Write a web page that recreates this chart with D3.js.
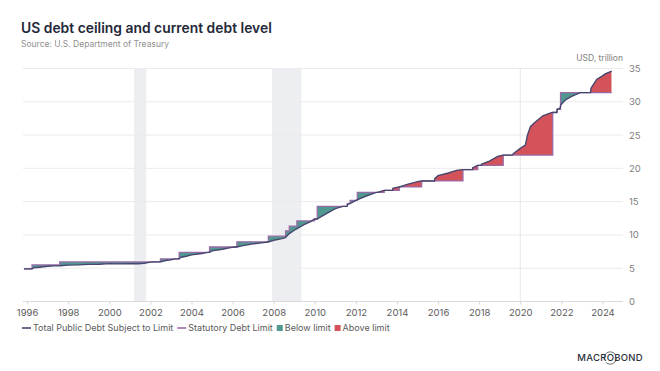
<!DOCTYPE html>
<html>
<head>
<meta charset="utf-8">
<script src="https://cdn.jsdelivr.net/npm/d3@7"></script>
<style>
  body { margin: 0; background: #fff; }
  svg { display: block; font-family: Inter, "Open Sans", sans-serif; }
</style>
</head>
<body>
<svg id="chart" width="660" height="371"></svg>
<script>
// total public debt subject to limit, USD trillion (decimal year)
const debtYears = [1995.85, 1996.24, 1996.30, 1996.6, 1997.0, 1997.3, 1997.6, 1998.0, 1998.5, 1999.0,
  1999.5, 2000.0, 2000.5, 2001.0, 2001.4, 2001.7, 2002.0, 2002.3, 2002.48, 2002.75,
  2003.0, 2003.2, 2003.39, 2003.5, 2003.75, 2004.0, 2004.5, 2004.8, 2004.87, 2005.0,
  2005.5, 2005.9, 2006.1, 2006.2, 2006.5, 2007.0, 2007.5, 2007.73, 2008.0, 2008.4,
  2008.57, 2008.76, 2009.0, 2009.13, 2009.5, 2009.8, 2009.98, 2010.11, 2010.5, 2011.0,
  2011.37, 2011.57, 2011.6, 2011.8, 2012.0, 2012.5, 2012.99, 2013.09, 2013.1, 2013.37,
  2013.79, 2013.8, 2014.0, 2014.1, 2014.12, 2014.5, 2015.0, 2015.19, 2015.83, 2015.84,
  2016.0, 2016.5, 2016.9, 2017.2, 2017.68, 2017.69, 2017.92, 2018.1, 2018.11, 2018.5,
  2018.9, 2019.16, 2019.6, 2019.66, 2020.0, 2020.25, 2020.35, 2020.5, 2020.75, 2021.1,
  2021.45, 2021.57, 2021.78, 2021.8, 2021.93, 2021.97, 2022.2, 2022.5, 2022.92, 2023.05,
  2023.42, 2023.44, 2023.5, 2023.73, 2024.0, 2024.14, 2024.3, 2024.45];
const debtValues = [4.90, 4.90, 5.05, 5.15, 5.29, 5.35, 5.38, 5.47, 5.50, 5.58,
  5.60, 5.69, 5.65, 5.68, 5.68, 5.75, 5.92, 5.95, 5.95, 6.16,
  6.25, 6.40, 6.40, 6.65, 6.80, 7.00, 7.20, 7.38, 7.38, 7.60,
  7.85, 8.10, 8.18, 8.18, 8.40, 8.65, 8.85, 8.93, 9.20, 9.45,
  9.60, 10.2, 10.7, 10.95, 11.6, 12.0, 12.39, 12.39, 13.1, 13.95,
  14.29, 14.29, 14.58, 14.85, 15.2, 15.85, 16.39, 16.39, 16.45, 16.70,
  16.70, 17.0, 17.15, 17.21, 17.21, 17.6, 18.0, 18.11, 18.11, 18.45,
  18.9, 19.3, 19.7, 19.81, 19.81, 20.1, 20.45, 20.45, 20.6, 21.1,
  21.8, 21.99, 21.99, 22.2, 23.0, 23.5, 25.0, 26.3, 27.0, 27.9,
  28.3, 28.4, 28.4, 28.88, 29.0, 29.5, 30.3, 30.8, 31.38, 31.38,
  31.38, 32.0, 32.3, 33.4, 33.9, 34.2, 34.4, 34.6];

// statutory debt limit, value in force from each date
const limitYears = [1995.85, 1996.24, 1997.59, 2002.49, 2003.40, 2004.88, 2006.21, 2007.74, 2008.58, 2008.76,
  2009.13, 2009.99, 2010.12, 2011.58, 2011.72, 2012.07, 2013.38, 2014.11, 2015.20, 2017.21,
  2017.93, 2019.17, 2021.58, 2021.79, 2021.96, 2024.45];
const limitValues = [4.90, 5.50, 5.95, 6.40, 7.384, 8.184, 8.965, 9.815, 10.615, 11.315,
  12.104, 12.394, 14.294, 14.694, 15.194, 16.394, 16.699, 17.212, 18.113, 19.809,
  20.456, 21.988, 28.401, 28.881, 31.381, 31.381];

const recessionStart = [2001.2, 2007.92];
const recessionEnd = [2001.8, 2009.35];
const xTicks = [1996, 1998, 2000, 2002, 2004, 2006, 2008, 2010, 2012, 2014, 2016, 2018, 2020, 2022, 2024];
const yTicks = [0, 5, 10, 15, 20, 25, 30, 35];

const colDebt = "#46466f", colLimit = "#9a6aa6", colBelow = "#519890", colAbove = "#d4525a";

const svg = d3.select("#chart");
const x = d3.scaleLinear().domain([1995.8, 2025.0]).range([23, 623]);
const y = d3.scaleLinear().domain([0, 35]).range([301.5, 68.5]);

const debt = debtYears.map((t, i) => [t, debtValues[i]]);
const limit = limitYears.map((t, i) => [t, limitValues[i]]);

// recession bands
svg.append("g").selectAll("rect")
  .data(recessionStart)
  .join("rect")
  .attr("x", d => x(d))
  .attr("width", (d, i) => x(recessionEnd[i]) - x(d))
  .attr("y", y(35))
  .attr("height", y(0) - y(35))
  .attr("fill", "#edeef1");

// gridlines
svg.append("g").selectAll("line")
  .data(yTicks.filter(d => d > 0))
  .join("line")
  .attr("x1", x.range()[0]).attr("x2", x.range()[1])
  .attr("y1", d => y(d)).attr("y2", d => y(d))
  .attr("stroke", "#ebebeb");
svg.append("line")
  .attr("x1", x(2020)).attr("x2", x(2020))
  .attr("y1", y(35)).attr("y2", y(0))
  .attr("stroke", "#e6e6e6");
svg.append("line")
  .attr("x1", x.range()[0]).attr("x2", x.range()[1])
  .attr("y1", y(0)).attr("y2", y(0))
  .attr("stroke", "#dadada");

// x axis
const xAxis = svg.append("g")
  .attr("transform", "translate(0," + y(0) + ")")
  .call(d3.axisBottom(x).tickValues(xTicks).tickFormat(d3.format("d")).tickSize(3).tickPadding(5));
xAxis.select(".domain").remove();
xAxis.selectAll("line").attr("stroke", "#d6d6d6");
xAxis.selectAll("text").attr("fill", "#5a5a5a").style("font-size", "9.5px").style("font-family", "Inter, sans-serif");

// right y axis
const yAxis = svg.append("g")
  .attr("transform", "translate(629,0)")
  .call(d3.axisRight(y).tickValues(yTicks).tickSize(0).tickPadding(0));
yAxis.select(".domain").remove();
yAxis.selectAll("text").attr("fill", "#808080").style("font-size", "9.5px").style("font-family", "Inter, sans-serif");

svg.append("text")
  .attr("x", 623).attr("y", 61)
  .attr("text-anchor", "end")
  .attr("fill", "#808080")
  .style("font-size", "8.5px")
  .text("USD, trillion");

// fills between the two series, via clip paths
const defs = svg.append("defs");
const stepArea = d3.area().curve(d3.curveStepAfter).x(d => x(d[0]));
const lineArea = d3.area().x(d => x(d[0]));

defs.append("clipPath").attr("id", "belowLimit").append("path")
  .attr("d", stepArea.y0(y(0) + 5).y1(d => y(d[1]))(limit));
defs.append("clipPath").attr("id", "belowDebt").append("path")
  .attr("d", lineArea.y0(y(0) + 5).y1(d => y(d[1]))(debt));

svg.append("path")
  .attr("clip-path", "url(#belowLimit)")
  .attr("fill", colBelow)
  .attr("d", lineArea.y0(d => y(d[1])).y1(0)(debt));
svg.append("path")
  .attr("clip-path", "url(#belowDebt)")
  .attr("fill", colAbove)
  .attr("d", stepArea.y0(d => y(d[1])).y1(0)(limit));

// lines
svg.append("path")
  .datum(limit)
  .attr("fill", "none")
  .attr("stroke", colLimit)
  .attr("stroke-width", 1.3)
  .attr("d", d3.line().curve(d3.curveStepAfter).x(d => x(d[0])).y(d => y(d[1])));
svg.append("path")
  .datum(debt)
  .attr("fill", "none")
  .attr("stroke", colDebt)
  .attr("stroke-width", 1.4)
  .attr("d", d3.line().x(d => x(d[0])).y(d => y(d[1])));

// title
const title = svg.append("text")
  .attr("x", 21).attr("y", 33)
  .attr("fill", "#232838")
  .style("font-weight", 600)
  .style("font-size", "14px")
  .text("US debt ceiling and current debt level");
const tw = title.node().getComputedTextLength();
title.style("font-size", (14 * 251 / tw) + "px");

svg.append("text")
  .attr("x", 21).attr("y", 46.5)
  .attr("fill", "#8f8f8f")
  .style("font-size", "8.5px")
  .text("Source: U.S. Department of Treasury");

// legend
const legendItems = [
  {label: "Total Public Debt Subject to Limit", color: colDebt, type: "line"},
  {label: "Statutory Debt Limit", color: colLimit, type: "line"},
  {label: "Below limit", color: colBelow, type: "box"},
  {label: "Above limit", color: colAbove, type: "box"}
];
let lx = 22;
const ly = 328;
legendItems.forEach(item => {
  if (item.type === "line") {
    svg.append("line")
      .attr("x1", lx).attr("x2", lx + 9)
      .attr("y1", ly).attr("y2", ly)
      .attr("stroke", item.color).attr("stroke-width", 1.6);
    lx += 11;
  } else {
    svg.append("rect")
      .attr("x", lx).attr("y", ly - 3)
      .attr("width", 6).attr("height", 6)
      .attr("fill", item.color);
    lx += 8;
  }
  const t = svg.append("text")
    .attr("x", lx).attr("y", ly + 3.2)
    .attr("fill", "#5a5a5a")
    .style("font-size", "9px")
    .text(item.label);
  lx += t.node().getComputedTextLength() + 4;
});

// logo
const logo = svg.append("text")
  .attr("x", 643).attr("y", 361)
  .attr("text-anchor", "end")
  .attr("fill", "#2b2f3a")
  .style("font-size", "9.5px")
  .style("font-weight", 500)
  .style("letter-spacing", "0.3px")
  .text("MACROBOND");
const oBox = logo.node().getExtentOfChar(4);
svg.append("circle")
  .attr("cx", oBox.x + oBox.width / 2 - 0.15)
  .attr("cy", oBox.y + oBox.height / 2 + 0.5)
  .attr("r", 6.2)
  .attr("fill", "none")
  .attr("stroke", "#2b2f3a")
  .attr("stroke-width", 0.7)
  .attr("stroke-dasharray", "14 3 18 4");
</script>
</body>
</html>
